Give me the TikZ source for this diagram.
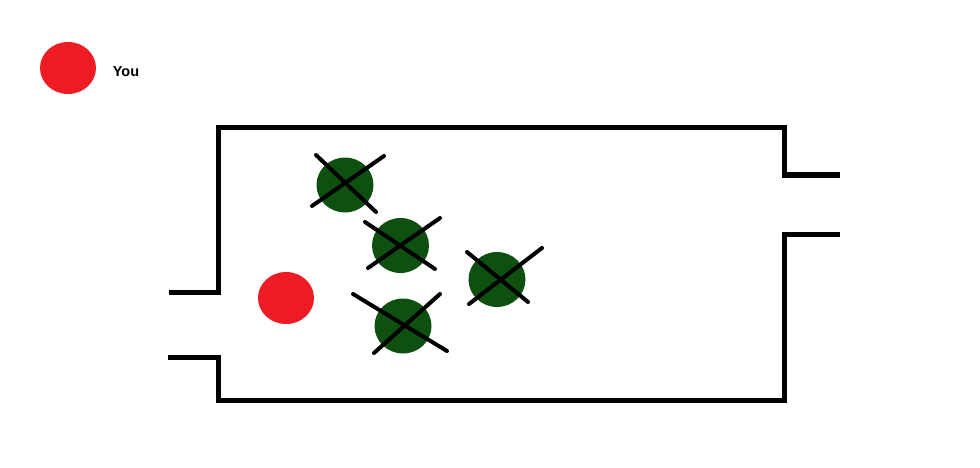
\documentclass[tikz,border=0pt]{standalone}
\usepackage{fontspec}
\setmainfont{Liberation Sans}
\usetikzlibrary{shapes.geometric}
\definecolor{paintred}{RGB}{237,28,36}
\definecolor{paintgreen}{RGB}{13,80,16}
\tikzset{
  wall/.style={line width=5pt, line cap=butt, line join=miter},
  cross/.style={line width=4pt, line cap=round},
  redblob/.style={ellipse, fill=paintred, inner sep=0pt, minimum width=56pt, minimum height=52pt},
  greenblob/.style={ellipse, fill=paintgreen, inner sep=0pt, minimum width=57pt, minimum height=55pt},
  lbl/.style={font=\bfseries\fontsize{14.5}{16}\selectfont, inner sep=0pt}
}
\begin{document}
\begin{tikzpicture}[x=1pt,y=-1pt]
\useasboundingbox (0,0) rectangle (980,468);
% legend
\node[redblob] (you) at (68,68) {};
\node[lbl] (youlbl) at (126,71.5) {You};
% chamber outline
\coordinate (lsu) at (169,292);
\coordinate (lsl) at (168,357);
\coordinate (rsu) at (840,175);
\coordinate (rsl) at (840,234);
\draw[wall] (lsu) -- (218,292) -- (218,127.5) -- (784,127.5) -- (784,175) -- (rsu);
\draw[wall] (lsl) -- (218,357) -- (218,400.5) -- (784,400.5) -- (784,234) -- (rsl);
% player
\node[redblob] (player) at (286,298) {};
% crossed-out green circles
\node[greenblob] (g1) at (345,185) {};
\node[greenblob] (g2) at (400.5,245.5) {};
\node[greenblob] (g3) at (497,279.5) {};
\node[greenblob] (g4) at (403,326) {};
\draw[cross] (316,155) -- (376,212);
\draw[cross] (312,206) -- (384,156);
\draw[cross] (365,222) -- (435,269);
\draw[cross] (368,268) -- (440,218);
\draw[cross] (467,252) -- (528,302);
\draw[cross] (469,304) -- (542,248);
\draw[cross] (353,294) -- (447,351);
\draw[cross] (374,353) -- (440,294);
\end{tikzpicture}
\end{document}
